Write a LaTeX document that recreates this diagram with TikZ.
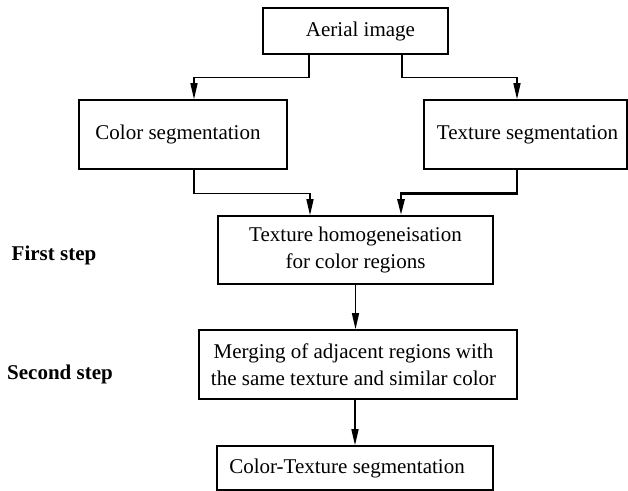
\documentclass[tikz,border=0pt]{standalone}
\usepackage{fontspec}
\setmainfont{Liberation Serif}
\usetikzlibrary{arrows.meta}
\begin{document}
\begin{tikzpicture}[x=0.5pt,y=-0.5pt,
  every node/.style={font=\fontsize{10.5}{13.5}\selectfont},
  procbox/.style={draw,line width=0.75pt,inner sep=0pt,align=center},
  steplabel/.style={font=\fontsize{10.5}{13.5}\selectfont\bfseries},
  arr/.style={line width=0.75pt,-{Triangle[length=8pt,width=3.5pt]}},
  heavyarr/.style={line width=1.3pt,-{Triangle[length=8pt,width=3.5pt]}}]
\useasboundingbox (0,0) rectangle (628,491);

% processing boxes
\node[procbox,minimum width=92.5pt,minimum height=23pt] (aerial) at (355.5,31) {\hspace*{5pt}Aerial image};
\node[procbox,minimum width=104pt,minimum height=34.5pt] (color) at (183,134.5) {Color segmentation\hspace*{5pt}};
\node[procbox,minimum width=101.5pt,minimum height=34.5pt] (texture) at (525.5,134.5) {\hspace*{2pt}Texture segmentation};
\node[procbox,minimum width=137.5pt,minimum height=34pt] (homog) at (355.5,250) {Texture homogeneisation\\for color regions};
\node[procbox,minimum width=159pt,minimum height=34.5pt] (merge) at (358,364.5) {Merging of adjacent regions with\hspace*{4.5pt}\\the same texture and similar color\hspace*{4.5pt}};
\node[procbox,minimum width=138pt,minimum height=22pt] (final) at (355,468) {Color-Texture segmentation\hspace*{8pt}};

% step labels
\node[steplabel] (first) at (54,255) {First step};
\node[steplabel] (second) at (60,374) {Second step};

% connectors
\draw[arr] ([xshift=-23.25pt]aerial.south) -- ++(0,23) -| ([xshift=5.5pt]color.north);
\draw[arr] ([xshift=23.25pt]aerial.south) -- ++(0,23) -| ([xshift=-4.25pt]texture.north);
\draw[arr] ([xshift=5.5pt]color.south) -- ++(0,24) -| ([xshift=-22.75pt]homog.north);
\draw[heavyarr] ([xshift=-4.25pt]texture.south) -- ++(0,24) -| ([xshift=22.75pt]homog.north);
\draw[arr] (homog.south) -- (homog.south |- merge.north);
\draw[arr] (final.north |- merge.south) -- (final.north);
\end{tikzpicture}
\end{document}
